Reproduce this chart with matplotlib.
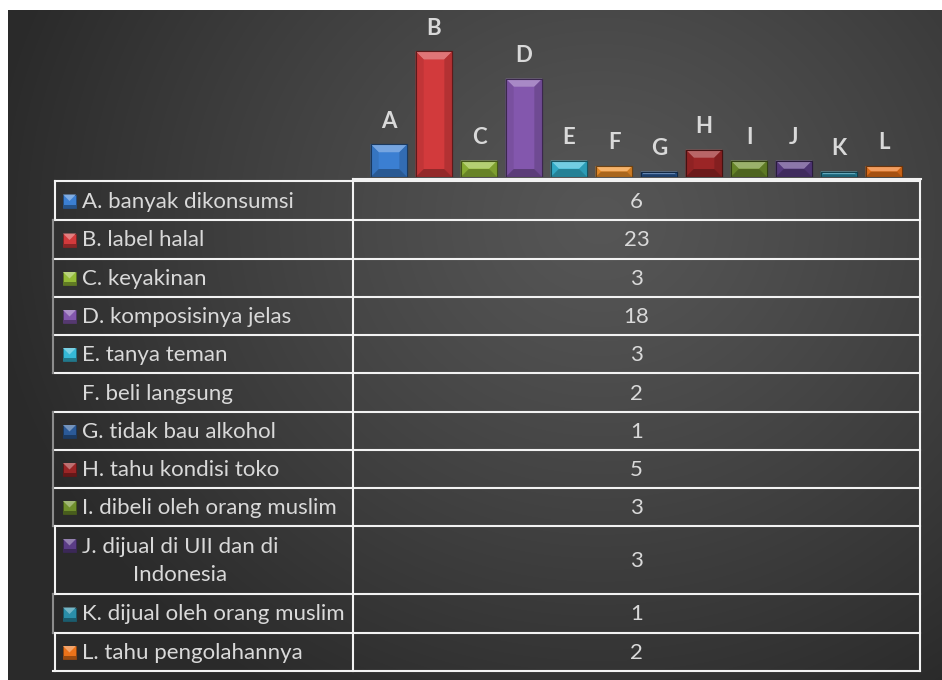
import numpy as np
import matplotlib
matplotlib.use("Agg")
import matplotlib.pyplot as plt
from matplotlib.patches import Polygon, Rectangle
from matplotlib.colors import to_rgb

plt.rcParams['font.family'] = ['Lato', 'DejaVu Sans']

# data
letters = ['A', 'B', 'C', 'D', 'E', 'F', 'G', 'H', 'I', 'J', 'K', 'L']
categories = ['A. banyak dikonsumsi', 'B. label halal', 'C. keyakinan',
              'D. komposisinya jelas', 'E. tanya teman', 'F. beli langsung',
              'G. tidak bau alkohol', 'H. tahu kondisi toko',
              'I. dibeli oleh orang muslim', 'J. dijual di UII dan di\nIndonesia',
              'K. dijual oleh orang muslim', 'L. tahu pengolahannya']
values = [6, 23, 3, 18, 3, 2, 1, 5, 3, 3, 1, 2]
colors = ['#3b7fd2', '#d23a3c', '#94bb37', '#8357ad', '#35b8d6', '#f2922a',
          '#2b5a98', '#9b2526', '#6f8f2c', '#5b3d86', '#2a8ea9', '#ec731a']

W, H = 942, 680
fig = plt.figure(figsize=(W / 100, H / 100), dpi=100, facecolor='white')


def mix(c, other, t):
    c = np.array(to_rgb(c))
    o = np.array(to_rgb(other))
    return tuple(c * (1 - t) + o * t)


# background panel with radial gradient
bg = fig.add_axes([0, 0, 1, 1])
bg.set_xlim(0, W)
bg.set_ylim(H, 0)
bg.axis('off')
yy, xx = np.mgrid[0:H, 0:W]
d = np.sqrt(((xx - 600) / 620.0) ** 2 + ((yy - 220) / 560.0) ** 2)
d = np.clip(d, 0, 1) ** 1.2
c0, c1 = 0x56 / 255, 0x2a / 255
img = c0 + (c1 - c0) * d
rgb = np.dstack([img, img, img])
bg.imshow(rgb[10:, 8:], extent=(8, W, H, 10), zorder=0, aspect='auto')

# table lines
line_c = '#f2f2f2'
row_edges = [181, 220, 259, 297, 335, 373, 412, 450, 488, 526, 594, 633, 671]
lw = 1.5
for y in row_edges[1:]:
    bg.plot([53, 920], [y, y], color=line_c, lw=lw, zorder=2)
bg.plot([55, 920], [181, 181], color=line_c, lw=lw, zorder=2)
bg.plot([353, 921], [178.5, 178.5], color=line_c, lw=lw, zorder=2)
bg.plot([353, 353], [178.5, 671], color=line_c, lw=lw, zorder=2)
bg.plot([920, 920], [181, 671], color=line_c, lw=lw, zorder=2)
left_style = ['w', 'g', 'g', 'g', 'g', None, 'g', 'g', 'g', 'w', 'g', 'w']
for i, st in enumerate(left_style):
    y0, y1 = row_edges[i], row_edges[i + 1]
    if st == 'w':
        bg.plot([55, 55], [y0, y1], color=line_c, lw=lw, zorder=2)
    elif st == 'g':
        bg.plot([52.5, 52.5], [y0, y1], color='#8c8c8c', lw=lw, zorder=2)

# table text and legend keys
txt_c = '#d9d9d9'
fs = 16
for i, (cat, val, col) in enumerate(zip(categories, values, colors)):
    y0, y1 = row_edges[i], row_edges[i + 1]
    yc = (y0 + y1) / 2 + 1
    bg.text(82, yc, cat, color=txt_c, fontsize=fs, ha='left', va='center',
            multialignment='center', zorder=3, linespacing=1.45)
    bg.text(636.5, yc, str(val), color=txt_c, fontsize=fs, ha='center',
            va='center', zorder=3)
    if letters[i] == 'F':
        continue
    ky = yc - 7 if '\n' not in cat else y0 + 13
    kx = 63
    s = 13
    bg.add_patch(Rectangle((kx, ky), s, s, facecolor=col,
                           edgecolor=mix(col, 'black', 0.4), lw=0.6, zorder=3))
    bg.add_patch(Polygon([(kx, ky), (kx + s, ky), (kx + s / 2, ky + s * 0.5)],
                         closed=True, facecolor=mix(col, 'white', 0.35),
                         edgecolor='none', zorder=3))
    bg.add_patch(Rectangle((kx, ky + s - 3), s, 3, facecolor=mix(col, 'black', 0.35),
                           edgecolor='none', zorder=3))

# bar chart
px_x, px_y = 45.0, 5.46
ax_left, ax_right, ax_bot, ax_top = 366.5, 906.5, 177, 10
ax = fig.add_axes([ax_left / W, 1 - ax_bot / H, (ax_right - ax_left) / W,
                   (ax_bot - ax_top) / H])
ax.set_xlim(-0.5, len(values) - 0.5)
ax.set_ylim(0, (ax_bot - ax_top) / px_y)
ax.axis('off')
ax.patch.set_alpha(0)

bw = 0.815
x = np.arange(len(values))
bars = ax.bar(x, values, width=bw, color=colors,
              edgecolor=[mix(c, 'black', 0.55) for c in colors], linewidth=0.8,
              zorder=2)
for b, col in zip(bars, colors):
    x0, h = b.get_x(), b.get_height()
    x1 = x0 + b.get_width()
    bev = min(8.0, h * px_y / 2)
    bx, by = bev / px_x, bev / px_y
    ax.add_patch(Polygon([(x0, h), (x1, h), (x1 - bx, h - by), (x0 + bx, h - by)],
                         closed=True, facecolor=mix(col, 'white', 0.3),
                         edgecolor='none', zorder=3))
    ax.add_patch(Polygon([(x0, 0), (x0, h), (x0 + bx, h - by), (x0 + bx, by)],
                         closed=True, facecolor=mix(col, 'black', 0.08),
                         edgecolor='none', zorder=3))
    ax.add_patch(Polygon([(x1, 0), (x1, h), (x1 - bx, h - by), (x1 - bx, by)],
                         closed=True, facecolor=mix(col, 'black', 0.15),
                         edgecolor='none', zorder=3))
    ax.add_patch(Polygon([(x0, 0), (x1, 0), (x1 - bx, by), (x0 + bx, by)],
                         closed=True, facecolor=mix(col, 'black', 0.3),
                         edgecolor='none', zorder=3))
    ax.add_patch(Rectangle((x0, 0), x1 - x0, h, facecolor='none',
                           edgecolor=mix(col, 'black', 0.55), lw=0.8, zorder=4))

for xi, v, lab in zip(x, values, letters):
    ax.annotate(lab, (xi, v), xytext=(0, 12), textcoords='offset points',
                ha='center', va='baseline', color=txt_c, fontsize=fs,
                fontweight='bold', zorder=5)

fig.savefig('out.png', dpi=100, facecolor='white')
